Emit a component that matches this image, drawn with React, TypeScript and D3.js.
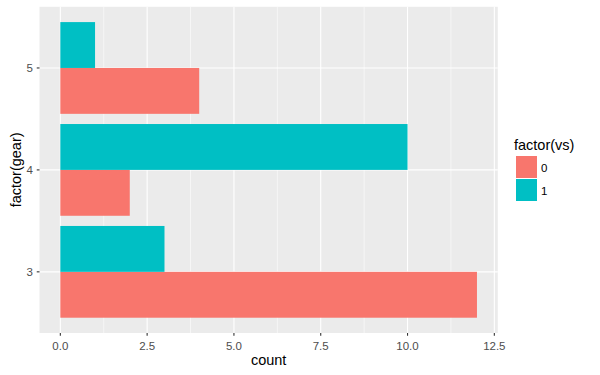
import { useEffect, useRef } from 'react'
import * as d3 from 'd3'

const gears = ['3', '4', '5']
const vsLevels = ['0', '1']
const counts0 = [12, 2, 4]
const counts1 = [3, 10, 1]
const xTicks = [0, 2.5, 5, 7.5, 10, 12.5]
const xMinor = [1.25, 3.75, 6.25, 8.75, 11.25]
const colors = ['#F8766D', '#00BFC4']

export default function App() {
  const svgRef = useRef<SVGSVGElement>(null)

  useEffect(() => {
    if (!svgRef.current) return
    const svg = d3.select(svgRef.current)
    svg.selectAll('*').remove()

    const panel = { left: 39.5, right: 497.8, top: 6.8, bottom: 333 }
    const font = 'Liberation Sans, Arial, sans-serif'

    const x = d3.scaleLinear().domain([-0.6, 12.6]).range([panel.left, panel.right])
    const y = d3.scaleLinear().domain([2.4, 5.6]).range([panel.bottom, panel.top])
    const catPos = (g: string) => gears.indexOf(g) + 3

    svg.append('rect')
      .attr('x', panel.left).attr('y', panel.top)
      .attr('width', panel.right - panel.left).attr('height', panel.bottom - panel.top)
      .attr('fill', '#EBEBEB')

    // minor grid
    svg.append('g').selectAll('line').data(xMinor).join('line')
      .attr('x1', d => x(d)).attr('x2', d => x(d))
      .attr('y1', panel.top).attr('y2', panel.bottom)
      .attr('stroke', '#fff').attr('stroke-width', 0.55)

    // major grid
    svg.append('g').selectAll('line').data(xTicks).join('line')
      .attr('x1', d => x(d)).attr('x2', d => x(d))
      .attr('y1', panel.top).attr('y2', panel.bottom)
      .attr('stroke', '#fff').attr('stroke-width', 1.1)
    svg.append('g').selectAll('line').data(gears).join('line')
      .attr('x1', panel.left).attr('x2', panel.right)
      .attr('y1', d => y(catPos(d))).attr('y2', d => y(catPos(d)))
      .attr('stroke', '#fff').attr('stroke-width', 1.1)

    // bars: dodged, vs=0 below, vs=1 above
    const bars = gears.flatMap((g, i) => [
      { g, vs: 0, v: counts0[i] },
      { g, vs: 1, v: counts1[i] },
    ])
    svg.append('g').selectAll('rect').data(bars).join('rect')
      .attr('x', x(0))
      .attr('width', d => x(d.v) - x(0))
      .attr('y', d => d.vs === 0 ? y(catPos(d.g)) : y(catPos(d.g) + 0.45))
      .attr('height', y(0) - y(0.45))
      .attr('fill', d => colors[d.vs])

    // x axis
    const xa = svg.append('g')
    xa.selectAll('line').data(xTicks).join('line')
      .attr('x1', d => x(d)).attr('x2', d => x(d))
      .attr('y1', panel.bottom).attr('y2', panel.bottom + 2.75)
      .attr('stroke', '#333').attr('stroke-width', 1.1)
    xa.selectAll('text').data(xTicks).join('text')
      .attr('x', d => x(d)).attr('y', 349.5)
      .attr('text-anchor', 'middle')
      .attr('font-family', font).attr('font-size', 11.5).attr('fill', '#4D4D4D')
      .text(d => d3.format('.1f')(d))

    // y axis
    const ya = svg.append('g')
    ya.selectAll('line').data(gears).join('line')
      .attr('x1', panel.left - 2.75).attr('x2', panel.left)
      .attr('y1', d => y(catPos(d))).attr('y2', d => y(catPos(d)))
      .attr('stroke', '#333').attr('stroke-width', 1.1)
    ya.selectAll('text').data(gears).join('text')
      .attr('x', panel.left - 6.5).attr('y', d => y(catPos(d)))
      .attr('dy', '0.35em')
      .attr('text-anchor', 'end')
      .attr('font-family', font).attr('font-size', 11.5).attr('fill', '#4D4D4D')
      .text(d => d)

    // axis titles
    svg.append('text')
      .attr('x', (panel.left + panel.right) / 2).attr('y', 365)
      .attr('text-anchor', 'middle')
      .attr('font-family', font).attr('font-size', 14.5).attr('fill', '#000')
      .text('count')
    svg.append('text')
      .attr('transform', `translate(21,${(panel.top + panel.bottom) / 2}) rotate(-90)`)
      .attr('text-anchor', 'middle')
      .attr('font-family', font).attr('font-size', 14.5).attr('fill', '#000')
      .text('factor(gear)')

    // legend
    const lg = svg.append('g')
    lg.append('text')
      .attr('x', 514).attr('y', 150)
      .attr('font-family', font).attr('font-size', 14.5).attr('fill', '#000')
      .text('factor(vs)')
    lg.selectAll('rect').data(vsLevels).join('rect')
      .attr('x', 516).attr('y', (_, i) => 156 + i * 23)
      .attr('width', 21).attr('height', 22)
      .attr('fill', (_, i) => colors[i])
    lg.selectAll('text.lab').data(vsLevels).join('text')
      .attr('class', 'lab')
      .attr('x', 541).attr('y', (_, i) => 167.5 + i * 23)
      .attr('dy', '0.35em')
      .attr('font-family', font).attr('font-size', 11.5).attr('fill', '#000')
      .text(d => d)
  }, [])

  return (
    <svg
      ref={svgRef}
      width={600}
      height={375}
      style={{ position: 'absolute', left: 0, top: 0, background: '#fff' }}
    />
  )
}
